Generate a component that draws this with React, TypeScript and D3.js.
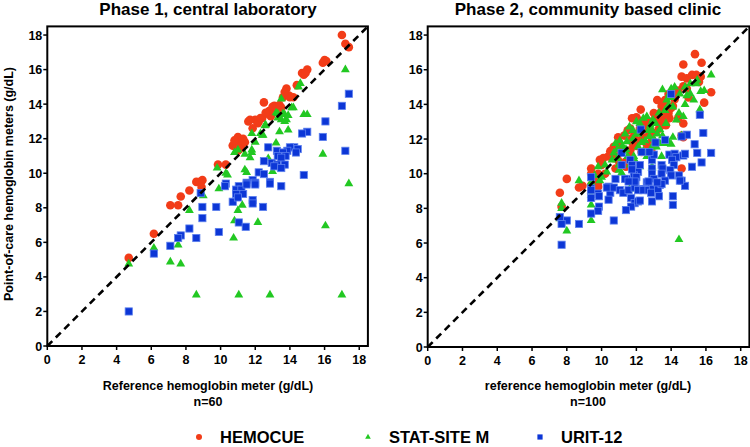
import React from "react";
import * as d3 from "d3";

type P = [number, number];

const ticks = [0, 2, 4, 6, 8, 10, 12, 14, 16, 18];
const titles = ["Phase 1, central laboratory", "Phase 2, community based clinic"];
const xLabels = ["Reference hemoglobin meter (g/dL)", "reference hemoglobin meter (g/dL)"];
const nLabels = ["n=60", "n=100"];
const yLabel = "Point-of-care hemoglobin meters (g/dL)";
const seriesNames = ["HEMOCUE", "STAT-SITE M", "URIT-12"];
const seriesColors = ["#f23c18", "#22c822", "#0c36d6"];

const p1Hemocue: P[] = [
  [17.0, 18.0], [17.2, 17.5], [17.4, 17.3], [15.9, 16.4], [16.1, 16.5], [15.0, 16.0], [14.7, 15.8], [14.8, 15.7],
  [14.4, 15.1], [13.8, 14.9], [13.75, 14.6], [13.6, 14.4], [14.2, 14.4], [14.0, 14.4], [13.3, 13.8], [13.5, 13.8],
  [13.2, 13.7], [12.8, 13.4], [12.8, 13.6], [13.1, 13.9], [12.5, 14.1], [12.4, 13.2], [12.2, 13.0], [12.0, 13.1],
  [11.7, 13.1], [11.85, 12.6], [11.0, 12.1], [10.9, 11.8], [10.7, 11.6], [10.9, 11.5], [11.3, 12.0], [11.4, 11.8],
  [11.2, 11.6], [11.0, 11.3], [10.3, 10.5], [9.85, 10.5], [8.95, 9.6], [8.6, 9.5], [8.8, 9.5], [8.9, 9.2],
  [8.2, 9.0], [7.7, 8.65], [7.1, 8.15], [7.55, 8.15], [6.15, 6.5], [4.7, 5.1], [12.9, 13.3], [13.0, 13.85],
  [12.15, 12.9], [11.6, 13.0], [11.2, 11.7], [13.4, 13.95], [13.95, 14.5], [16.0, 16.55], [11.1, 11.4], [10.8, 11.9],
  [12.3, 13.2], [13.7, 14.7], [14.9, 15.8], [12.6, 13.5],
];
const p1StatSite: P[] = [
  [17.2, 16.0], [14.6, 15.2], [14.5, 15.0], [13.5, 14.3], [14.1, 13.8], [14.8, 13.4], [15.0, 13.4], [13.2, 13.5],
  [13.7, 13.4], [13.8, 13.1], [13.3, 13.2], [13.5, 13.1], [13.4, 12.4], [13.9, 12.5], [12.55, 12.75], [12.3, 12.3],
  [12.4, 12.2], [12.0, 11.8], [13.2, 11.75], [11.8, 12.3], [10.8, 11.2], [11.4, 11.1], [11.8, 11.2], [11.7, 10.9],
  [15.9, 11.1], [11.4, 10.2], [11.5, 10.05], [13.0, 10.1], [10.3, 10.0], [9.8, 10.3], [9.9, 9.1], [17.4, 9.4],
  [9.0, 8.7], [8.2, 7.85], [11.25, 8.15], [11.0, 7.85], [10.8, 7.25], [12.15, 7.15], [10.75, 6.25], [16.05, 6.96],
  [6.15, 5.67], [7.55, 5.85], [7.1, 4.87], [7.7, 4.75], [4.7, 4.75], [8.6, 2.96], [11.05, 2.96], [12.85, 2.96],
  [17.0, 2.96], [13.6, 13.45], [13.9, 13.35], [14.2, 13.8], [12.45, 12.2], [11.8, 11.35], [12.75, 10.85], [11.0, 11.35],
  [13.7, 13.0], [10.4, 9.9], [12.6, 12.8], [13.3, 13.45],
];
const p1Urit: P[] = [
  [17.4, 14.6], [17.0, 13.9], [16.05, 13.0], [15.9, 12.1], [15.0, 12.4], [14.7, 12.3], [14.8, 9.9], [17.2, 11.3],
  [14.25, 11.5], [14.45, 11.4], [14.0, 11.5], [13.85, 11.3], [14.35, 11.2], [12.75, 11.5], [13.25, 11.3], [13.6, 11.2],
  [13.3, 11.0], [13.75, 11.0], [13.5, 10.9], [12.5, 10.7], [12.95, 10.6], [13.25, 10.5], [13.7, 10.5], [13.1, 10.4],
  [13.5, 10.3], [12.2, 10.05], [12.5, 9.95], [12.85, 9.5], [11.85, 9.6], [11.5, 9.45], [12.0, 9.45], [11.05, 9.25],
  [10.9, 9.05], [11.2, 9.05], [11.3, 8.8], [13.5, 9.25], [10.3, 9.4], [8.85, 8.85], [10.25, 9.25], [10.9, 8.8],
  [10.7, 8.35], [11.0, 8.6], [11.5, 9.35], [12.0, 9.35], [12.85, 9.4], [11.85, 8.45], [11.85, 8.25], [12.45, 8.05],
  [9.75, 8.05], [8.95, 8.05], [8.95, 7.4], [11.05, 7.15], [11.45, 6.9], [9.9, 6.6], [8.2, 6.8], [8.6, 6.25],
  [7.7, 6.4], [7.55, 6.25], [7.1, 5.8], [6.15, 5.35], [4.7, 2.0],
];

const p2Hemocue: P[] = [
  [15.37, 16.9], [14.7, 16.3], [15.75, 16.4], [14.6, 15.6], [14.9, 15.5], [15.2, 15.7], [15.45, 15.7], [15.7, 15.6],
  [16.3, 14.7], [15.9, 14.1], [14.7, 15.05], [14.4, 14.8], [14.3, 14.6], [13.85, 14.6], [13.65, 14.25], [13.2, 14.25],
  [13.45, 13.9], [13.6, 13.7], [13.85, 13.5], [13.35, 13.5], [13.45, 13.2], [13.45, 12.8], [13.7, 12.8], [13.3, 12.95],
  [14.7, 12.9], [14.6, 12.2], [14.7, 12.1], [14.6, 10.3], [12.25, 13.7], [12.0, 13.25], [11.75, 13.2], [11.9, 13.2],
  [12.1, 13.1], [11.65, 12.6], [11.5, 12.5], [12.7, 12.8], [12.75, 12.3], [12.4, 12.1], [10.95, 12.1], [10.7, 11.55],
  [11.05, 11.55], [11.75, 12.05], [11.8, 11.75], [11.65, 11.35], [12.3, 11.25], [12.7, 11.1], [12.9, 11.2], [9.9, 10.8],
  [9.4, 10.3], [9.4, 10.0], [9.8, 10.0], [10.2, 10.0], [8.0, 9.7], [7.6, 8.9], [11.4, 10.7], [11.0, 10.7],
  [11.4, 10.4], [10.7, 10.9], [8.7, 9.2], [9.8, 9.25], [9.8, 9.5], [9.4, 9.35], [7.7, 8.1], [13.0, 13.5],
  [13.2, 13.0], [12.5, 12.6], [12.9, 12.4], [13.9, 13.2], [14.0, 13.8], [12.8, 13.0], [12.2, 12.6], [11.3, 12.2],
  [11.0, 11.8], [10.5, 11.3], [10.4, 11.0], [12.0, 11.6], [12.6, 11.7], [10.0, 10.5], [10.8, 10.3], [9.5, 9.8],
  [13.1, 13.3], [14.2, 14.3], [13.6, 14.0], [12.5, 12.9], [13.7, 13.4], [14.1, 13.9], [11.7, 11.0], [12.3, 12.8],
  [13.4, 13.1], [11.9, 12.3], [12.1, 11.9], [10.9, 11.0], [12.9, 12.0], [13.3, 12.6], [14.4, 13.2], [15.0, 14.4],
  [14.9, 14.9], [15.6, 15.3], [8.9, 9.3], [10.1, 10.9],
];
const p2StatSite: P[] = [
  [16.3, 15.7], [15.45, 15.2], [15.1, 15.2], [14.8, 15.0], [14.2, 15.0], [14.0, 14.9], [13.5, 14.85], [15.7, 14.75],
  [15.9, 14.8], [15.3, 14.25], [15.65, 13.7], [14.8, 14.0], [14.45, 13.5], [14.1, 13.85], [13.75, 14.25], [13.85, 13.95],
  [13.65, 13.65], [13.35, 12.55], [12.95, 13.1], [12.8, 12.8], [12.9, 12.5], [12.4, 13.2], [12.2, 12.9], [11.8, 12.5],
  [12.0, 12.3], [12.3, 12.6], [13.5, 12.2], [13.65, 11.75], [13.85, 11.85], [14.0, 11.7], [14.1, 12.1], [13.35, 11.75],
  [12.75, 12.15], [12.9, 11.55], [13.15, 11.55], [11.35, 12.3], [11.05, 11.9], [10.8, 11.75], [11.25, 11.3], [11.45, 11.85],
  [12.1, 11.55], [12.4, 11.3], [11.85, 11.0], [10.7, 11.2], [10.9, 10.9], [11.5, 11.0], [11.0, 10.5], [11.65, 10.5],
  [11.9, 10.8], [12.2, 10.4], [12.9, 10.4], [13.45, 11.0], [9.8, 10.4], [10.3, 10.1], [11.15, 10.05], [12.9, 10.3],
  [8.7, 9.6], [9.4, 9.5], [14.6, 12.2], [9.9, 9.6], [11.6, 9.1], [9.4, 8.75], [9.4, 8.2], [7.7, 8.3],
  [7.7, 8.0], [7.6, 7.4], [9.4, 7.3], [8.0, 6.7], [14.45, 6.2], [12.6, 13.3], [12.0, 13.0], [11.6, 12.7],
  [13.1, 12.9], [13.3, 13.5], [14.5, 14.6], [14.9, 14.5], [13.0, 12.0], [12.5, 11.9], [11.2, 11.6], [10.6, 10.8],
  [10.2, 10.5], [11.8, 12.0], [12.7, 12.5], [14.3, 13.1], [14.7, 13.3], [10.9, 11.4], [12.1, 12.3], [13.7, 12.9],
  [15.1, 14.6], [9.6, 9.9], [10.0, 9.8], [12.6, 11.0], [13.2, 12.3], [11.4, 11.4], [14.0, 14.4], [13.9, 14.6],
  [12.3, 11.8], [11.0, 10.2], [15.5, 15.4], [9.4, 9.0],
];
const p2Urit: P[] = [
  [14.0, 14.6], [15.65, 13.4], [15.85, 12.35], [14.9, 12.25], [14.6, 12.15], [15.35, 11.7], [15.5, 11.2], [16.3, 11.2],
  [15.75, 10.65], [15.2, 10.4], [13.65, 11.95], [13.9, 11.1], [14.2, 11.15], [14.3, 10.95], [14.7, 11.05], [14.8, 11.15],
  [14.05, 10.8], [14.15, 10.5], [13.95, 10.2], [14.45, 9.9], [14.6, 9.6], [14.0, 9.9], [13.45, 10.5], [13.5, 10.3],
  [13.45, 10.0], [13.65, 9.6], [13.35, 9.35], [12.9, 10.8], [12.9, 10.3], [12.9, 10.0], [13.0, 9.7], [13.1, 11.8],
  [13.0, 11.1], [12.75, 11.25], [12.3, 11.25], [12.2, 10.5], [12.1, 10.1], [11.85, 9.9], [12.0, 9.8], [12.6, 9.5],
  [12.7, 9.25], [11.65, 10.8], [11.75, 10.5], [11.75, 10.25], [11.45, 9.7], [11.95, 9.5], [11.15, 11.2], [11.15, 10.5],
  [11.35, 9.7], [10.8, 9.7], [10.4, 9.25], [10.5, 8.9], [12.2, 9.1], [12.45, 9.1], [9.4, 9.8], [9.4, 9.15],
  [9.8, 8.85], [10.3, 9.2], [10.7, 9.2], [11.05, 9.05], [11.25, 8.9], [11.55, 9.05], [11.9, 9.2], [12.1, 9.05],
  [12.4, 9.05], [12.7, 9.05], [12.95, 9.1], [12.85, 8.9], [13.25, 9.1], [13.45, 9.4], [13.2, 9.5], [12.7, 9.55],
  [11.9, 9.55], [11.55, 9.55], [11.7, 8.6], [11.9, 8.3], [11.7, 8.1], [11.4, 7.9], [12.1, 8.4], [12.2, 8.45],
  [12.9, 8.4], [13.3, 8.7], [14.1, 8.7], [14.1, 8.2], [14.8, 9.3], [14.5, 9.6], [10.4, 8.5], [9.85, 8.7],
  [9.85, 8.1], [9.8, 7.85], [9.4, 9.05], [9.4, 8.6], [9.4, 7.7], [10.7, 7.3], [8.7, 7.1], [8.0, 7.3],
  [7.7, 7.1], [7.6, 7.5], [7.7, 5.9], [12.25, 12.55],
];

const panels = [
  { series: [p1Hemocue, p1StatSite, p1Urit], x: [47.3, 367.9], y: [346, 26.4], cx: 208 },
  { series: [p2Hemocue, p2StatSite, p2Urit], x: [427.7, 749.4], y: [347, 26.4], cx: 588 },
];

const FONT = "'Liberation Sans', Arial, sans-serif";
const triPath = d3.symbol(d3.symbolTriangle, 34)()!;

function Marker({ kind, x, y }: { kind: number; x: number; y: number }) {
  if (kind === 0) return <circle cx={x} cy={y} r={4.3} fill={seriesColors[0]} />;
  if (kind === 1)
    return <path d={triPath} transform={`translate(${x},${y})`} fill={seriesColors[1]} />;
  return (
    <rect x={x - 3.6} y={y - 3.6} width={7.2} height={7.2} fill={seriesColors[2]}
      stroke="#5d80ee" strokeWidth={0.8} />
  );
}

function Panel({ idx }: { idx: number }) {
  const p = panels[idx];
  const xs = d3.scaleLinear().domain([0, 18.5]).range(p.x as [number, number]);
  const ys = d3.scaleLinear().domain([0, 18.5]).range(p.y as [number, number]);
  const order = [0, 1, 2];
  return (
    <g>
      <text x={p.cx} y={14.5} textAnchor="middle" fontFamily={FONT} fontWeight="bold" fontSize={17}>
        {titles[idx]}
      </text>
      {order.map((k) =>
        p.series[k].map((d, i) => <Marker key={`${k}-${i}`} kind={k} x={xs(d[0])} y={ys(d[1])} />)
      )}
      <line x1={xs(0)} y1={ys(0)} x2={xs(18.5)} y2={ys(18.5)} stroke="#000" strokeWidth={2.6}
        strokeDasharray="7,5" />
      <rect x={xs(0)} y={ys(18.5)} width={xs(18.5) - xs(0)} height={ys(0) - ys(18.5)} fill="none"
        stroke="#000" strokeWidth={2} />
      {ticks.map((t) => (
        <g key={`x${t}`}>
          <line x1={xs(t)} x2={xs(t)} y1={ys(0)} y2={ys(0) + 4} stroke="#000" strokeWidth={1.5} />
          <text x={xs(t)} y={ys(0) + 17.5} textAnchor="middle" fontFamily={FONT} fontWeight="bold" fontSize={12.5}>
            {t}
          </text>
        </g>
      ))}
      {ticks.map((t) => (
        <g key={`y${t}`}>
          <line x1={xs(0) - 4} x2={xs(0)} y1={ys(t)} y2={ys(t)} stroke="#000" strokeWidth={1.5} />
          <text x={xs(0) - 5} y={ys(t) + 4.5} textAnchor="end" fontFamily={FONT} fontWeight="bold" fontSize={12.5}>
            {t}
          </text>
        </g>
      ))}
      <text x={p.cx} y={390} textAnchor="middle" fontFamily={FONT} fontWeight="bold" fontSize={12.5}>
        {xLabels[idx]}
      </text>
      <text x={p.cx} y={406} textAnchor="middle" fontFamily={FONT} fontWeight="bold" fontSize={12.5}>
        {nLabels[idx]}
      </text>
    </g>
  );
}

const legendX = [199, 368, 540];

export default function App() {
  return (
    <svg width={750} height={447} style={{ position: "absolute", left: 0, top: 0, background: "#fff" }}>
      <rect width={750} height={447} fill="#fff" />
      <Panel idx={0} />
      <Panel idx={1} />
      <text transform="translate(13,184) rotate(-90)" textAnchor="middle" fontFamily={FONT}
        fontWeight="bold" fontSize={12.5}>
        {yLabel}
      </text>
      {seriesNames.map((n, i) => (
        <g key={n}>
          {i === 0 && <circle cx={legendX[i]} cy={437} r={3} fill={seriesColors[0]} />}
          {i === 1 && <path d={d3.symbol(d3.symbolTriangle, 14)()!} transform={`translate(${legendX[i]},437)`} fill={seriesColors[1]} />}
          {i === 2 && <rect x={legendX[i] - 2.6} y={434.4} width={5.2} height={5.2} fill={seriesColors[2]} />}
          <text x={legendX[i] + 21} y={443} fontFamily={FONT} fontWeight="bold" fontSize={16.5}>
            {n}
          </text>
        </g>
      ))}
    </svg>
  );
}
